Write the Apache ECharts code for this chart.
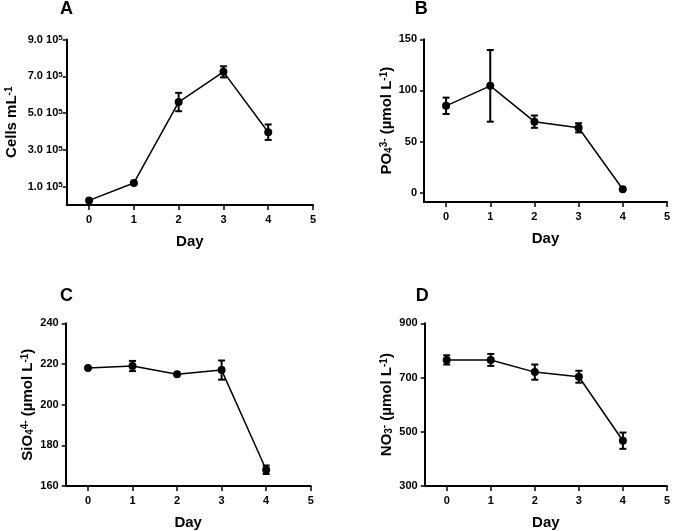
<!DOCTYPE html>
<html><head><meta charset="utf-8">
<script src="https://cdn.jsdelivr.net/npm/echarts@6/dist/echarts.min.js"></script>
<style>html,body{margin:0;padding:0;background:#fff}#c{width:673px;height:531px}</style>
</head><body><div id="c"></div>
<script>
var days = [0, 1, 2, 3, 4];
var dayTicks = [0, 1, 2, 3, 4, 5];
var cells = [25000, 120000, 560000, 724000, 396000];
var cellsErr = [0, 0, 50000, 30000, 42000];
var cellsTicks = [100000, 300000, 500000, 700000, 900000];
var po4 = [85, 104.5, 69.5, 63.5, 3.5];
var po4Err = [8, 35, 6, 4.5, 0];
var po4Ticks = [0, 50, 100, 150];
var sio4 = [218, 219, 215, 217, 168];
var sio4Err = [0, 2.5, 0, 4.7, 2.1];
var sio4Ticks = [160, 180, 200, 220, 240];
var no3 = [765, 765, 720, 703, 467];
var no3Err = [17, 22, 28, 22, 30];
var no3Ticks = [300, 500, 700, 900];

var FONT = 'Liberation Sans, Arial, sans-serif';
var chart = echarts.init(document.getElementById('c'));

var grids = [
  {left: 66.7, right: 360, top: 39.5, bottom: 326},
  {left: 424, right: 3.3, top: 39.3, bottom: 329},
  {left: 65.7, right: 362.3, top: 323.3, bottom: 44.3},
  {left: 424.7, right: 3.3, top: 323.3, bottom: 44.3}
];

var tickSup = {fontSize: 8, fontWeight: 'bold', fontFamily: FONT, color: '#000', verticalAlign: 'top'};

function xAxis(i) {
  return {
    type: 'value', gridIndex: i, min: -0.5, max: 5,
    name: 'Day', nameLocation: 'middle', nameGap: 29,
    nameTextStyle: {fontFamily: FONT, fontWeight: 'bold', fontSize: 15, color: '#000'},
    axisLine: {show: true, onZero: false, lineStyle: {color: '#000', width: 2}},
    axisTick: {show: true, inside: false, length: 5, lineStyle: {color: '#000', width: 1.5}, customValues: dayTicks},
    axisLabel: {fontFamily: FONT, fontWeight: 'bold', fontSize: 11, color: '#000', margin: 9, customValues: dayTicks},
    splitLine: {show: false}
  };
}
function yAxis(i, min, max, ticks, name, gap, margin, fmt) {
  return {
    type: 'value', gridIndex: i, min: min, max: max,
    name: name, nameLocation: 'middle', nameGap: gap, nameRotate: 90,
    nameTextStyle: {fontFamily: FONT, fontWeight: 'bold', fontSize: 15, color: '#000', rich: {
      sup: {fontSize: 10, fontWeight: 'bold', fontFamily: FONT, color: '#000', verticalAlign: 'top'},
      sub: {fontSize: 10, fontWeight: 'bold', fontFamily: FONT, color: '#000', verticalAlign: 'bottom'}
    }},
    axisLine: {show: true, onZero: false, lineStyle: {color: '#000', width: 2}},
    axisTick: {show: true, inside: false, length: 4, lineStyle: {color: '#000', width: 1.5}, customValues: ticks},
    axisLabel: {fontFamily: FONT, fontWeight: 'bold', fontSize: 11, color: '#000', margin: margin, customValues: ticks,
      formatter: fmt, rich: {sup: tickSup}},
    splitLine: {show: false}
  };
}

function lineSeries(i, vals) {
  return {
    type: 'line', xAxisIndex: i, yAxisIndex: i,
    data: days.map(function (d, k) { return [d, vals[k]]; }),
    symbol: 'circle', symbolSize: 8,
    itemStyle: {color: '#000'},
    lineStyle: {color: '#000', width: 1.5},
    z: 3, animation: false
  };
}
function errSeries(i, vals, errs) {
  return {
    type: 'custom', xAxisIndex: i, yAxisIndex: i,
    data: days.map(function (d, k) { return [d, vals[k] - errs[k], vals[k] + errs[k]]; }),
    renderItem: function (params, api) {
      var x = api.value(0);
      var lo = api.coord([x, api.value(1)]);
      var hi = api.coord([x, api.value(2)]);
      if (Math.abs(lo[1] - hi[1]) < 1) return {type: 'group', children: []};
      var w = 3.5;
      var st = {stroke: '#000', lineWidth: 2};
      return {type: 'group', children: [
        {type: 'line', shape: {x1: hi[0], y1: hi[1], x2: lo[0], y2: lo[1]}, style: st},
        {type: 'line', shape: {x1: hi[0] - w, y1: hi[1], x2: hi[0] + w, y2: hi[1]}, style: st},
        {type: 'line', shape: {x1: lo[0] - w, y1: lo[1], x2: lo[0] + w, y2: lo[1]}, style: st}
      ]};
    },
    z: 4, animation: false
  };
}

function plain(v) { return String(v); }

var letterStyle = {fontFamily: FONT, fontWeight: 'bold', fontSize: 18, color: '#000'};

chart.setOption({
  animation: false,
  backgroundColor: '#fff',
  title: [
    {text: 'A', left: 60, top: 0, padding: 0, textStyle: letterStyle},
    {text: 'B', left: 414.7, top: 0, padding: 0, textStyle: letterStyle},
    {text: 'C', left: 60, top: 287, padding: 0, textStyle: letterStyle},
    {text: 'D', left: 415.7, top: 287, padding: 0, textStyle: letterStyle}
  ],
  grid: grids,
  xAxis: [xAxis(0), xAxis(1), xAxis(2), xAxis(3)],
  yAxis: [
    yAxis(0, 0, 900000, cellsTicks, 'Cells mL{sup|-1}', 47, 4, function (v) { return (v / 100000).toFixed(1) + ' 10{sup|5}'; }),
    yAxis(1, -9, 150, po4Ticks, 'PO{sub|4}{sup|3-} (µmol L{sup|-1})', 30, 7, plain),
    yAxis(2, 160, 240, sio4Ticks, 'SiO{sub|4}{sup|4-} (µmol L{sup|-1})', 30, 7, plain),
    yAxis(3, 300, 900, no3Ticks, 'NO{sub|3}{sup|-} (µmol L{sup|-1})', 30, 7, plain)
  ],
  series: [
    lineSeries(0, cells), errSeries(0, cells, cellsErr),
    lineSeries(1, po4), errSeries(1, po4, po4Err),
    lineSeries(2, sio4), errSeries(2, sio4, sio4Err),
    lineSeries(3, no3), errSeries(3, no3, no3Err)
  ]
});
</script>
</body></html>
